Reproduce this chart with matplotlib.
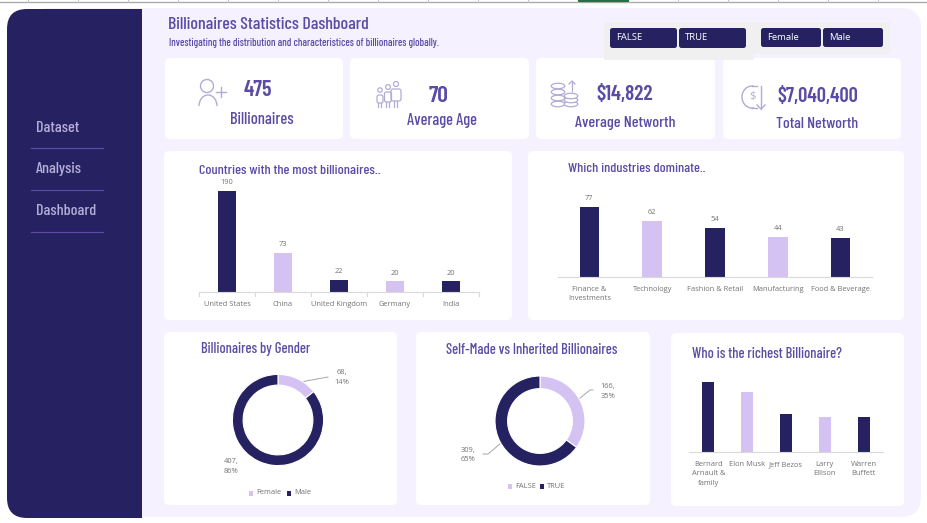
import matplotlib
matplotlib.use('Agg')
import logging
import matplotlib.pyplot as plt
from matplotlib.patches import FancyBboxPatch, Rectangle, Circle, Ellipse, Arc

logging.getLogger('matplotlib.font_manager').setLevel(logging.ERROR)

W, H = 927, 523
DARK = '#262262'
LIGHT = '#D4C2F2'
HEAD = '#5B4BA5'
ICON = '#B3ABD6'
GREY = '#737373'
AXIS = '#D9D9D9'
HEAD_FONT = ['Barlow Condensed', 'Roboto Condensed', 'Liberation Sans Narrow', 'Roboto']
BODY_FONT = ['Open Sans', 'DejaVu Sans']

countries = ['United States', 'China', 'United Kingdom', 'Germany', 'India']
country_counts = [190, 73, 22, 20, 20]
industries = ['Finance &\nInvestments', 'Technology', 'Fashion & Retail', 'Manufacturing', 'Food & Beverage']
industry_counts = [77, 62, 54, 44, 43]
richest = ['Bernard\nArnault &\nfamily', 'Elon Musk', 'Jeff Bezos', 'Larry\nEllison', 'Warren\nBuffett']
richest_worth = [211, 180, 114, 107, 106]
gender_labels = ['Female', 'Male']
gender_counts = [68, 407]
selfmade_labels = ['FALSE', 'TRUE']
selfmade_counts = [166, 309]
menu_items = ['Dataset', 'Analysis', 'Dashboard']

fig = plt.figure(figsize=(W / 100, H / 100), dpi=100, facecolor='white')
bg = fig.add_axes([0, 0, 1, 1])
bg.set_xlim(0, W)
bg.set_ylim(H, 0)
bg.axis('off')


def box(x0, y0, x1, y1, color, r=5, z=1):
    bg.add_patch(FancyBboxPatch((x0 + r, y0 + r), x1 - x0 - 2 * r, y1 - y0 - 2 * r,
                                boxstyle=f'round,pad={r},rounding_size={r}',
                                fc=color, ec='none', zorder=z))


def label(x, y, s, size, color=HEAD, ha='center', weight=500, family=HEAD_FONT, z=5):
    bg.text(x, y, s, fontsize=size, color=color, ha=ha, va='center',
            fontweight=weight, family=family, zorder=z)


def px_axes(x0, y0, x1, y1):
    ax = fig.add_axes([x0 / W, 1 - y1 / H, (x1 - x0) / W, (y1 - y0) / H])
    ax.patch.set_alpha(0)
    return ax


def bars(x0, x1, base, top, names, values, ymax, ticks=False, show_values=True, size=5.4):
    ax = px_axes(x0, top, x1, base)
    pos = range(len(names))
    ax.bar(pos, values, width=0.31, color=[DARK if i % 2 == 0 else LIGHT for i in pos])
    ax.set_xlim(-0.5, len(names) - 0.5)
    ax.set_ylim(0, ymax)
    ax.set_yticks([])
    for side in ['top', 'left', 'right']:
        ax.spines[side].set_visible(False)
    ax.spines['bottom'].set_color(AXIS)
    ax.set_xticks(list(pos), names, fontsize=size, color=GREY, family=BODY_FONT, linespacing=1.45)
    ax.tick_params(axis='x', length=0, pad=6.5)
    if ticks:
        for edge in [i - 0.5 for i in range(len(names) + 1)]:
            ax.plot([edge, edge], [0, -0.03], color=AXIS, lw=0.8, clip_on=False,
                    transform=ax.get_xaxis_transform())
    if show_values:
        for i, v in enumerate(values):
            ax.annotate(str(v), (i, v), xytext=(0, 6), textcoords='offset points',
                        ha='center', va='center', fontsize=size, color=GREY, family=BODY_FONT)


def donut(cx, cy, radius, width_frac, values):
    ax = px_axes(cx - radius, cy - radius, cx + radius, cy + radius)
    ax.pie(values, colors=[LIGHT, DARK], startangle=90, counterclock=False, radius=1,
           wedgeprops=dict(width=width_frac, edgecolor='white', linewidth=0.8))
    ax.set_xlim(-1, 1)
    ax.set_ylim(-1, 1)


# ruler along the top edge
bg.plot([0, W], [1.5, 1.5], color='#ABABAB', lw=1, zorder=1)
for tx in range(28, W, 50):
    bg.plot([tx, tx], [0, 1.5], color='#C4C4C4', lw=0.7, zorder=1)
bg.add_patch(Rectangle((578, 0), 51, 2, fc='#217346', ec='none', zorder=2))

# page and sidebar
box(30, 8, 921, 517, '#F5F1FE', r=20)
box(7, 9, 142, 518, DARK, r=20, z=2)
bg.add_patch(Rectangle((100, 9), 42, 509, fc=DARK, ec='none', zorder=2))
for i, item in enumerate(menu_items):
    label(36, 128 + i * 41.5, item, 11.6, color='#B5AED9', ha='left')
    bg.plot([31, 103], [148 + i * 42, 148 + i * 42], color='#5A4CA8', lw=0.8, zorder=3)

label(168, 24.5, 'Billionaires Statistics Dashboard', 12.9, ha='left')
label(169, 43.5, 'Investigating the distribution and characteristices of billionaires globally.',
      7.67, ha='left')

# cards
for c in [(165, 58, 343, 139), (350, 58, 529, 139), (536, 58, 715, 139), (723, 58, 901, 139),
          (164, 151, 512, 320), (528, 151, 904, 320),
          (164, 332, 397, 505), (416, 332, 650, 505), (671, 333, 904, 506)]:
    box(*c, 'white', r=5)

# filter buttons
bg.add_patch(Rectangle((604, 22), 150, 38, fc='#F0F0F0', ec='none', zorder=3))
bg.add_patch(Rectangle((754, 22), 136, 32, fc='#F0F0F0', ec='none', zorder=3))
for x0, x1, y1, txt in [(610, 677, 48, 'FALSE'), (679, 746, 48, 'TRUE'),
                        (761, 821, 47, 'Female'), (823, 883, 47, 'Male')]:
    box(x0, 28, x1, y1, DARK, r=2.5, z=4)
    label(x0 + 6, (28 + y1) / 2 - 0.5, txt, 6.8, color='white', ha='left', weight='normal', family=BODY_FONT)

# KPI text
for x_num, y_num, num, size_num, x_lab, y_lab, txt, size_lab in [
        (257.5, 90, '475', 16, 261.5, 119.5, 'Billionaires', 11.9),
        (439, 95.5, '70', 17, 442, 120.5, 'Average Age', 11.7),
        (625, 94.5, '$14,822', 15.4, 625, 122.5, 'Average Networth', 11.6),
        (817.5, 96, '$7,040,400', 14.8, 817, 123.5, 'Total Networth', 11.5)]:
    label(x_num, y_num, num, size_num, weight=600)
    label(x_lab, y_lab, txt, size_lab)

# icon: person with plus
bg.add_patch(Circle((207, 86), 6.5, fc='none', ec=ICON, lw=1, zorder=5))
bg.add_patch(Arc((208, 106), 18, 22, theta1=180, theta2=360, ec=ICON, lw=1, zorder=5))
bg.plot([216, 226], [92, 92], color=ICON, lw=1, zorder=5)
bg.plot([221, 221], [87, 97], color=ICON, lw=1, zorder=5)

# icon: family
for cx, cy, r, y0, y1, w in [(396, 84, 2.5, 89, 101, 10), (388, 87, 2.4, 92, 102, 7), (380, 90, 2.2, 95, 103, 6)]:
    bg.add_patch(Circle((cx, cy), r, fc='none', ec=ICON, lw=0.9, zorder=5))
    box(cx - w / 2, y0, cx + w / 2, y1, 'none', r=2, z=5)
    bg.patches[-1].set_edgecolor(ICON)
    bg.patches[-1].set_linewidth(0.9)
    bg.plot([cx - 1.5, cx - 1.5], [y1, 107], color=ICON, lw=0.9, zorder=5)
    bg.plot([cx + 1.5, cx + 1.5], [y1, 107], color=ICON, lw=0.9, zorder=5)

# icon: coin stacks and up arrow
for cx, ys in [(558, [86, 92, 98, 104]), (571, [96, 100, 104])]:
    for cy in ys[::-1]:
        bg.add_patch(Ellipse((cx, cy), 13.5, 5.5, fc='white', ec=ICON, lw=0.9, zorder=5))
bg.plot([572, 572], [81, 91], color=ICON, lw=0.9, zorder=5)
bg.plot([569, 572, 575], [84, 81, 84], color=ICON, lw=0.9, zorder=5)

# icon: dollar and down arrow
bg.add_patch(Arc((752, 97), 20, 22, theta1=80, theta2=280, ec=ICON, lw=1, zorder=5))
bg.plot([752, 757], [86, 86], color=ICON, lw=1, zorder=5)
bg.plot([752, 757], [108, 108], color=ICON, lw=1, zorder=5)
label(752.5, 97, '$', 8, color=ICON, weight='normal', family=BODY_FONT)
bg.plot([761, 761], [86, 109], color=ICON, lw=1, zorder=5)
bg.plot([757, 761, 765], [105, 109, 105], color=ICON, lw=1, zorder=5)

# chart titles
label(199, 171.5, 'Countries with the most billionaires..', 10.25, ha='left')
label(568, 168.5, 'Which industries dominate..', 10.2, ha='left')
label(201, 348.5, 'Billionaires by Gender', 10.4, ha='left')
label(446, 350.5, 'Self-Made vs Inherited Billionaires', 10.45, ha='left')
label(692, 354.5, 'Who is the richest Billionaire?', 10.4, ha='left')

bars(199, 479, 292, 170, countries, country_counts, 190 * 122 / 101, ticks=True)
bars(558, 872, 277, 190, industries, industry_counts, 77 * 87 / 70)
bars(689, 883, 452, 370, richest, richest_worth, 211 * 82 / 70, show_values=False)

# donuts with leader lines
donut(278, 420, 45.6, 0.235, gender_counts)
donut(540, 421, 45, 0.28, selfmade_counts)
bg.plot([295, 328], [383, 377], color='#A6A6A6', lw=0.7, zorder=6)
bg.plot([574, 590, 593], [403, 390, 390], color='#A6A6A6', lw=0.7, zorder=6)
bg.plot([507, 488, 483], [438, 454, 454], color='#A6A6A6', lw=0.7, zorder=6)


def pct_text(values, i):
    return f'{values[i]},\n{round(100 * values[i] / sum(values))}%'


for x, y, txt in [(342, 377.5, pct_text(gender_counts, 0)), (231, 466.5, pct_text(gender_counts, 1)),
                  (608, 391.5, pct_text(selfmade_counts, 0)), (468, 455, pct_text(selfmade_counts, 1))]:
    bg.text(x, y, txt, fontsize=5.4, color=GREY, ha='center', va='center', family=BODY_FONT,
            linespacing=1.45, zorder=6)

# legends
for x_sq, x_txt, y, name, col in [(251, 255, 493, gender_labels[0], LIGHT), (289, 293, 493, gender_labels[1], DARK),
                                  (510, 514, 486, selfmade_labels[0], LIGHT), (542, 546, 486, selfmade_labels[1], DARK)]:
    bg.add_patch(Rectangle((x_sq - 2, y - 2), 4.5, 4.5, fc=col, ec='none', zorder=6))
    label(x_txt + 1, y, name, 5.4, color=GREY, ha='left', weight='normal', family=BODY_FONT)

fig.savefig('out.png', dpi=100)
